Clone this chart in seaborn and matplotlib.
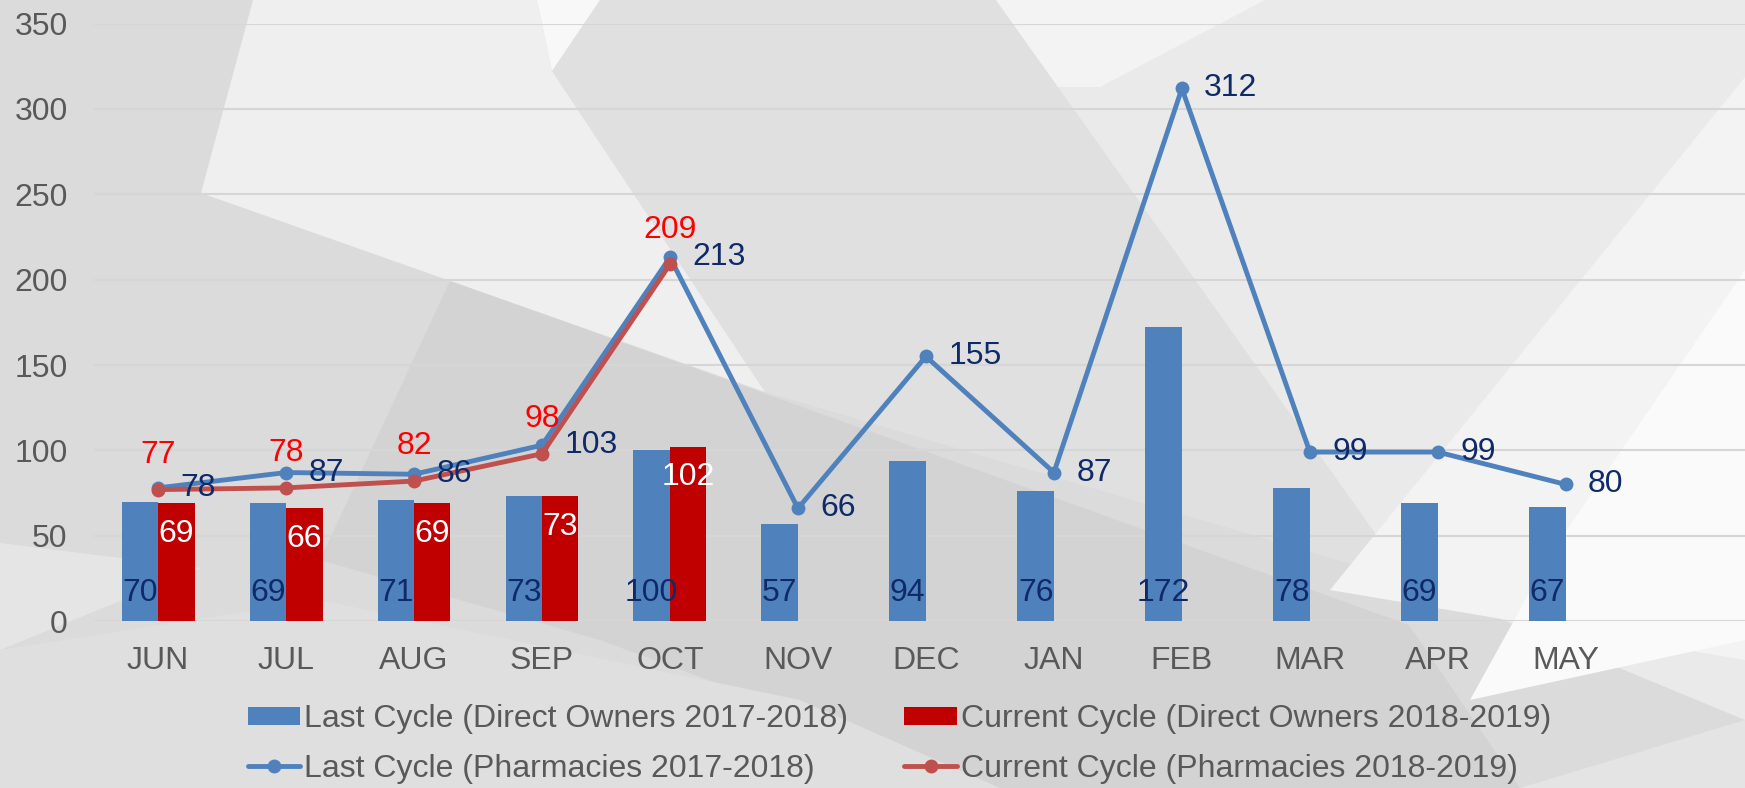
import numpy as np
import pandas as pd
import matplotlib
matplotlib.use('Agg')
import matplotlib.pyplot as plt
from matplotlib.patches import Polygon, Patch
from matplotlib.lines import Line2D
import seaborn as sns

# data
months = ['JUN', 'JUL', 'AUG', 'SEP', 'OCT', 'NOV', 'DEC', 'JAN', 'FEB', 'MAR', 'APR', 'MAY']
last_owners = [70, 69, 71, 73, 100, 57, 94, 76, 172, 78, 69, 67]
current_owners = [69, 66, 69, 73, 102]
last_pharm = [78, 87, 86, 103, 213, 66, 155, 87, 312, 99, 99, 80]
current_pharm = [77, 78, 82, 98, 209]

lbl_last_owners = 'Last Cycle (Direct Owners 2017-2018)'
lbl_cur_owners = 'Current Cycle (Direct Owners 2018-2019)'
lbl_last_pharm = 'Last Cycle (Pharmacies 2017-2018)'
lbl_cur_pharm = 'Current Cycle (Pharmacies 2018-2019)'

blue = '#4F81BD'
red_bar = '#C00000'
red_line = '#C0504D'
navy = '#0E2A68'
grey_txt = '#595959'

sns.set_theme(style='white')
plt.rcParams['font.family'] = ['Liberation Sans', 'DejaVu Sans']

fig = plt.figure(figsize=(17.45, 7.88), dpi=100)

# grey polygon backdrop (pixel coords of the figure, y downwards)
bg = fig.add_axes([0, 0, 1, 1], zorder=0)
bg.set_xlim(0, 1745)
bg.set_ylim(788, 0)
bg.axis('off')
shapes = [
    ('#DBDBDB', [(0, 0), (1745, 0), (1745, 788), (0, 788)]),
    ('#E0E0E0', [(552, 71), (600, 0), (996, 0), (1409, 581), (765, 392)]),
    ('#EAEAEA', [(996, 0), (1745, 0), (1745, 720), (1409, 581)]),
    ('#F3F3F3', [(996, 0), (1265, 0), (1100, 87), (1058, 87)]),
    ('#EFEFEF', [(253, 0), (537, 0), (552, 71), (765, 392), (201, 193)]),
    ('#F8F8F8', [(537, 0), (600, 0), (552, 71)]),
    ('#F3F3F3', [(1745, 77), (1745, 660), (1330, 590)]),
    ('#FAFAFA', [(1745, 270), (1745, 640), (1470, 700), (1553, 550)]),
    ('#D3D3D3', [(560, 320), (1409, 625), (1520, 788), (1000, 788), (600, 640), (320, 560), (450, 281)]),
    ('#E5E5E5', [(0, 543), (201, 568), (0, 650)]),
    ('#DFDFDF', [(0, 650), (320, 600), (800, 700), (1000, 788), (0, 788)]),
    ('#E4E4E4', [(1520, 788), (1745, 720), (1745, 788)]),
]
for color, pts in shapes:
    bg.add_patch(Polygon(pts, closed=True, facecolor=color, edgecolor='none'))

ax = fig.add_axes([0.0539, 0.2119, 0.9461, 0.7581], zorder=1)
ax.patch.set_alpha(0)

bars = pd.DataFrame({
    'month': months + months[:len(current_owners)],
    'series': [lbl_last_owners] * len(last_owners) + [lbl_cur_owners] * len(current_owners),
    'value': last_owners + current_owners,
})
sns.barplot(data=bars, x='month', y='value', hue='series', order=months,
            hue_order=[lbl_last_owners, lbl_cur_owners], palette=[blue, red_bar],
            width=0.57, gap=0, saturation=1, legend=False, ax=ax, zorder=2,
            edgecolor='none', linewidth=0)

# lines
x_last = np.arange(len(last_pharm))
x_cur = np.arange(len(current_pharm))
sns.lineplot(x=x_last, y=last_pharm, color=blue, lw=3.5, marker='o', markersize=10,
             markeredgewidth=0, ax=ax, zorder=3)
sns.lineplot(x=x_cur, y=current_pharm, color=red_line, lw=3.5, marker='o', markersize=10,
             markeredgewidth=0, ax=ax, zorder=4)

# bar labels
fs = 23
for rect, v in zip(ax.containers[0], last_owners):
    ax.annotate(str(v), (rect.get_x() + rect.get_width() / 2, 0), xytext=(0, 20),
                textcoords='offset points', ha='center', va='center', color=navy, fontsize=fs, zorder=5)
for rect, v in zip(ax.containers[1], current_owners):
    ax.annotate(str(v), (rect.get_x() + rect.get_width() / 2, v), xytext=(0, -22),
                textcoords='offset points', ha='center', va='center', color='white', fontsize=fs, zorder=5)

# line labels
for xi, v in zip(x_last, last_pharm):
    ax.annotate(str(v), (xi, v), xytext=(16, 0), textcoords='offset points',
                ha='left', va='center', color=navy, fontsize=fs, zorder=6)
for xi, v in zip(x_cur, current_pharm):
    ax.annotate(str(v), (xi, v), xytext=(0, 25), textcoords='offset points',
                ha='center', va='center', color='#FF0000', fontsize=fs, zorder=6)

ax.set_xlim(-0.5, 12.4)
ax.set_ylim(0, 350)
ax.set_yticks(range(0, 351, 50))
ax.set_xlabel('')
ax.set_ylabel('')
sns.despine(ax=ax, left=True, bottom=True)
ax.yaxis.grid(True, color='#D6D6D6', lw=1.5)
ax.set_axisbelow(True)
ax.tick_params(axis='y', length=0, pad=19, labelsize=fs, labelcolor=grey_txt)
ax.tick_params(axis='x', length=0, pad=18, labelsize=fs, labelcolor=grey_txt)

handles = [
    Patch(facecolor=blue, edgecolor='none'),
    Line2D([], [], color=blue, lw=3.5, marker='o', markersize=10, markeredgewidth=0),
    Patch(facecolor=red_bar, edgecolor='none'),
    Line2D([], [], color=red_line, lw=3.5, marker='o', markersize=10, markeredgewidth=0),
]
labels = [lbl_last_owners, lbl_last_pharm, lbl_cur_owners, lbl_cur_pharm]
fig.legend(handles, labels, ncol=2, loc='upper left', bbox_to_anchor=(0.142, 0.106),
           frameon=False, fontsize=fs, labelcolor=grey_txt, handlelength=1.65,
           handleheight=0.5, handletextpad=0.12, columnspacing=1.75, labelspacing=0.6,
           borderpad=0, borderaxespad=0)

fig.savefig('out.png', dpi=100)
